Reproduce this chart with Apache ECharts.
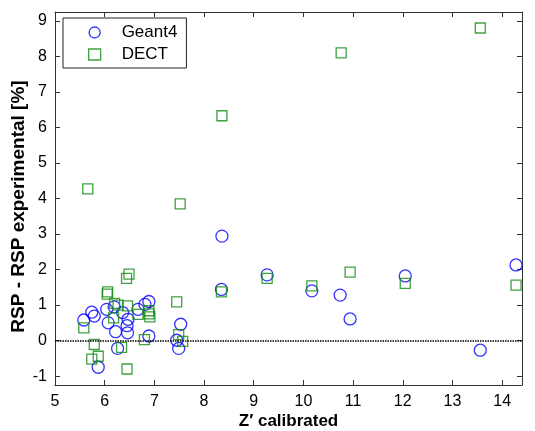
<!DOCTYPE html>
<html>
<head>
<meta charset="utf-8">
<script src="https://cdn.jsdelivr.net/npm/echarts@6/dist/echarts.min.js"></script>
<style>html,body{margin:0;padding:0;background:#fff}#c{width:535px;height:431px}</style>
</head>
<body>
<div id="c"></div>
<script>
const xTicks = [5, 6, 7, 8, 9, 10, 11, 12, 13, 14];
const yTicks = [-1, 0, 1, 2, 3, 4, 5, 6, 7, 8, 9];

const geantX = [5.58, 5.74, 5.79, 5.87, 6.04, 6.07, 6.19, 6.22, 6.26, 6.36, 6.45, 6.47, 6.46, 6.67, 6.81, 6.89, 6.89, 7.53, 7.45, 7.49, 8.36, 8.35, 9.27, 10.17, 10.74, 10.94, 12.05, 13.56, 14.28];
const geantY = [0.58, 0.80, 0.69, -0.75, 0.88, 0.50, 0.95, 0.25, -0.22, 0.79, 0.42, 0.60, 0.22, 0.88, 1.02, 1.10, 0.13, 0.46, 0.01, -0.22, 2.94, 1.44, 1.85, 1.40, 1.28, 0.61, 1.82, -0.27, 2.13];

const dectX = [5.58, 5.79, 5.87, 5.74, 5.66, 6.06, 6.05, 6.20, 6.27, 6.46, 6.44, 6.49, 6.18, 6.34, 6.45, 6.67, 6.80, 6.89, 6.89, 6.91, 7.45, 7.52, 7.49, 7.57, 8.36, 8.35, 9.27, 10.17, 10.76, 10.94, 12.05, 13.56, 14.28];
const dectY = [0.36, -0.11, -0.44, -0.52, 4.27, 1.37, 1.31, 1.05, 1.00, 0.98, 1.75, 1.87, 0.64, -0.19, -0.80, 0.74, 0.03, 0.84, 0.75, 0.67, 1.09, 3.85, 0.17, -0.02, 6.33, 1.37, 1.75, 1.54, 8.10, 1.93, 1.61, 8.80, 1.56];

const zip = (xs, ys) => xs.map((x, i) => [x, ys[i]]);

const BLUE = '#0000ff';
const GREEN = '#108a10';
const AX = '#333';
const FONT = '"Liberation Sans", Arial, sans-serif';

const chart = echarts.init(document.getElementById('c'), null, {renderer: 'canvas'});

const baseX = {
  type: 'value', min: 5, max: 14.4,
  splitLine: {show: false},
  axisLine: {show: true, onZero: false, lineStyle: {color: AX, width: 1}},
  axisTick: {show: true, inside: true, length: 5, customValues: xTicks, lineStyle: {color: AX}},
};
const baseY = {
  type: 'value', min: -1.25, max: 9.25,
  splitLine: {show: false},
  axisLine: {show: true, onZero: false, lineStyle: {color: AX, width: 1}},
  axisTick: {show: true, inside: true, length: 5, customValues: yTicks, lineStyle: {color: AX}},
};

chart.setOption({
  animation: false,
  backgroundColor: '#fff',
  textStyle: {fontFamily: FONT},
  grid: {left: 55, right: 13, top: 12, bottom: 46, containLabel: false, outerBoundsMode: 'none'},
  legend: {
    orient: 'vertical', left: 63, top: 18,
    backgroundColor: '#fff', borderColor: '#222', borderWidth: 1, borderRadius: 0,
    padding: [6, 9, 5, 25],
    itemWidth: 12, itemHeight: 11, itemGap: 5,
    textStyle: {fontSize: 17, color: '#000', fontFamily: FONT, lineHeight: 16, padding: [0, 0, 0, 16]},
    data: [
      {name: 'Geant4', icon: 'circle', itemStyle: {color: 'transparent', borderColor: BLUE, borderWidth: 1.3}},
      {name: 'DECT', icon: 'rect', itemStyle: {color: 'transparent', borderColor: GREEN, borderWidth: 1.3}}
    ]
  },
  xAxis: [
    Object.assign({}, baseX, {
      position: 'bottom',
      axisLabel: {show: true, customValues: xTicks, fontSize: 16, color: '#000', margin: 9, fontFamily: FONT},
      name: 'Z\u2032 calibrated', nameLocation: 'middle', nameGap: 28, nameMoveOverlap: false,
      nameTextStyle: {fontSize: 17, fontWeight: 'bold', color: '#000', fontFamily: FONT}
    }),
    Object.assign({}, baseX, {position: 'top', axisLabel: {show: false}})
  ],
  yAxis: [
    Object.assign({}, baseY, {
      position: 'left',
      axisLabel: {show: true, customValues: yTicks, fontSize: 16, color: '#000', margin: 8, fontFamily: FONT},
      name: 'RSP - RSP experimental [%]', nameLocation: 'middle', nameGap: 27, nameMoveOverlap: false,
      nameTextStyle: {fontSize: 19, fontWeight: 'bold', color: '#000', fontFamily: FONT, padding: [0, 16, 0, 0]}
    }),
    Object.assign({}, baseY, {position: 'right', axisLabel: {show: false}})
  ],
  series: [
    {
      name: 'Geant4', type: 'scatter', xAxisIndex: 0, yAxisIndex: 0,
      symbol: 'circle', symbolSize: 12,
      itemStyle: {color: 'transparent', borderColor: BLUE, borderWidth: 1.3},
      data: zip(geantX, geantY),
      markLine: {
        silent: true, symbol: 'none', animation: false,
        label: {show: false},
        lineStyle: {type: [1.5, 1], color: '#000', width: 1.5},
        data: [{yAxis: 0}]
      },
      z: 2
    },
    {
      name: 'DECT', type: 'scatter', xAxisIndex: 0, yAxisIndex: 0,
      symbol: 'rect', symbolSize: 10,
      itemStyle: {color: 'transparent', borderColor: GREEN, borderWidth: 1.3},
      data: zip(dectX, dectY),
      z: 3
    }
  ]
});
</script>
</body>
</html>
